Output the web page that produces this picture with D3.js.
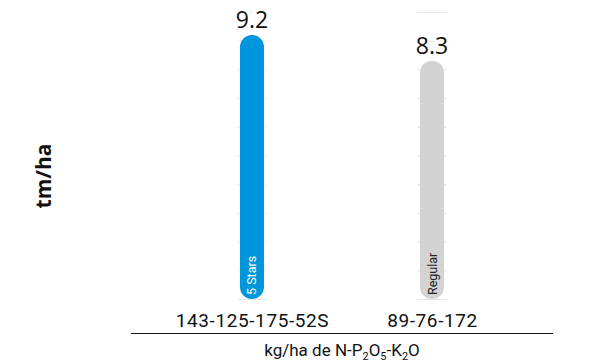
<!DOCTYPE html>
<html>
<head>
<meta charset="utf-8">
<script src="https://cdn.jsdelivr.net/npm/d3@7"></script>
<style>
  html, body { margin: 0; padding: 0; background: #fff; }
  svg { display: block; }
</style>
</head>
<body>
<svg id="chart" width="590" height="364"></svg>
<script>
// Yield per fertiliser program
const categories = ["143-125-175-52S", "89-76-172"];
const yields = [9.2, 8.3];
const barLabels = ["5 Stars", "Regular"];
const barColors = ["#0096db", "#d3d3d3"];
const barLabelColors = ["#ffffff", "#222222"];
const gridTicks = [0, 1, 2, 3, 4, 5, 6, 7, 8, 9, 10];

const svg = d3.select("#chart");

const x = d3.scalePoint()
  .domain(categories)
  .range([131, 553])
  .padding(0.672);

const y = d3.scaleLinear()
  .domain([0, 10])
  .range([299, 12]);

const barW = 24;
const gridHalf = 14.5;

// short grid segments behind each bar
const grid = svg.append("g");
categories.forEach(c => {
  grid.selectAll(null)
    .data(gridTicks)
    .enter().append("line")
    .attr("x1", x(c) - gridHalf)
    .attr("x2", x(c) + gridHalf)
    .attr("y1", d => y(d) + 0.5)
    .attr("y2", d => y(d) + 0.5)
    .attr("stroke", "#e6e6e6")
    .attr("stroke-width", 1);
});

// rounded bars
svg.append("g").selectAll("rect")
  .data(yields)
  .enter().append("rect")
  .attr("x", (d, i) => x(categories[i]) - barW / 2)
  .attr("y", d => y(d))
  .attr("width", barW)
  .attr("height", d => y(0) - y(d))
  .attr("rx", barW / 2)
  .attr("fill", (d, i) => barColors[i]);

// value labels above bars
svg.append("g").selectAll("text")
  .data(yields)
  .enter().append("text")
  .attr("x", (d, i) => x(categories[i]))
  .attr("y", d => y(d) - 7)
  .attr("text-anchor", "middle")
  .attr("font-family", "Open Sans, Noto Sans, sans-serif")
  .attr("font-size", 23)
  .attr("fill", "#111")
  .attr("stroke", "#fff")
  .attr("stroke-width", 6)
  .attr("paint-order", "stroke")
  .text(d => d.toFixed(1));

// rotated labels inside bars
svg.append("g").selectAll("text")
  .data(barLabels)
  .enter().append("text")
  .attr("transform", (d, i) => `translate(${x(categories[i]) + 4.5},${y(0) - 4}) rotate(-90)`)
  .attr("font-family", "Roboto, Open Sans, sans-serif")
  .attr("font-size", 12.5)
  .attr("fill", (d, i) => barLabelColors[i])
  .text(d => d);

// x axis: category labels and baseline
const xAxis = d3.axisBottom(x).tickSize(0).tickPadding(0);
const gx = svg.append("g")
  .attr("transform", "translate(0,333)")
  .call(xAxis);
gx.select(".domain").attr("d", "M131,0.5H553").attr("stroke", "#111");
gx.selectAll(".tick text")
  .attr("y", -6)
  .attr("dy", 0)
  .attr("font-family", "Roboto, Open Sans, sans-serif")
  .attr("font-size", 19)
  .attr("letter-spacing", 0.6)
  .attr("fill", "#111");

// x axis title with subscripts
const xt = svg.append("text")
  .attr("x", 342)
  .attr("y", 356)
  .attr("text-anchor", "middle")
  .attr("font-family", "Roboto, Open Sans, sans-serif")
  .attr("font-size", 17)
  .attr("fill", "#111");
const parts = [["kg/ha de N-P", 0], ["2", 1], ["O", 0], ["5", 1], ["-K", 0], ["2", 1], ["O", 0]];
let prevSub = 0;
parts.forEach(([t, sub]) => {
  xt.append("tspan")
    .attr("dy", sub ? 4 : (prevSub ? -4 : 0))
    .attr("font-size", sub ? 11 : 17)
    .text(t);
  prevSub = sub;
});

// y axis title
svg.append("text")
  .attr("transform", "translate(51,176) rotate(-90)")
  .attr("text-anchor", "middle")
  .attr("font-family", "Open Sans, Noto Sans, sans-serif")
  .attr("font-weight", "bold")
  .attr("font-size", 21)
  .attr("fill", "#111")
  .text("tm/ha");
</script>
</body>
</html>
